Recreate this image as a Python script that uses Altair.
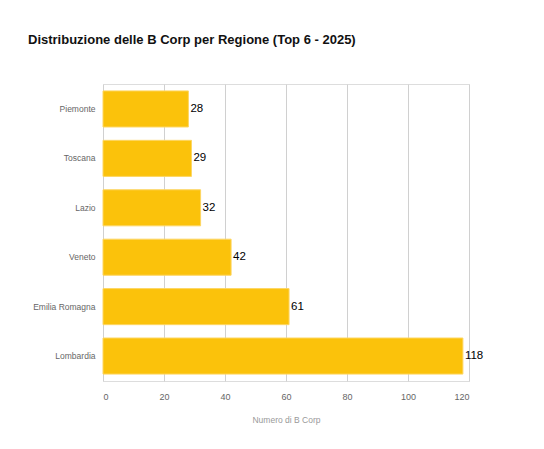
import altair as alt
import pandas as pd

regioni = ["Piemonte", "Toscana", "Lazio", "Veneto", "Emilia Romagna", "Lombardia"]
valori = [28, 29, 32, 42, 61, 118]

df = pd.DataFrame({"Regione": regioni, "Numero": valori})

FONT = "Liberation Sans"

base = alt.Chart(df).encode(
    y=alt.Y("Regione:N", sort=regioni,
            scale=alt.Scale(paddingInner=0.27, paddingOuter=0.14),
            axis=alt.Axis(title=None, domain=False, ticks=False, labelPadding=8,
                          labelFontSize=8.5, labelColor="#666666", labelFont=FONT, grid=False)),
    x=alt.X("Numero:Q", scale=alt.Scale(domain=[0, 120], nice=False),
            axis=alt.Axis(title="Numero di B Corp", values=[0, 20, 40, 60, 80, 100, 120],
                          domain=False, ticks=False, labelPadding=11,
                          labelFontSize=9, labelColor="#666666", labelFont=FONT,
                          titleFontSize=8.5, titleColor="#999999", titleFont=FONT,
                          titleFontWeight="normal", titlePadding=14,
                          grid=True, gridColor="#d0d0d0", gridWidth=1)),
)

bars = base.mark_bar(color="#FBC20B", stroke="#FDD663", strokeWidth=1)
labels = base.mark_text(align="left", baseline="middle", dx=2, fontSize=11.5,
                        font=FONT, color="#000000").encode(text="Numero:Q")

chart = (bars + labels).properties(
    width=366, height=297,
    title=alt.TitleParams("Distribuzione delle B Corp per Regione (Top 6 - 2025)",
                          anchor="start", frame="group", dx=-75, offset=37,
                          fontSize=13, fontWeight="bold", font=FONT, color="#111111"),
    autosize=alt.AutoSizeParams(type="none"),
    padding={"left": 103, "top": 84, "right": 75, "bottom": 68},
).configure_view(stroke=None).configure(background="white")

chart.save("out.html", embed_options={"renderer": "svg", "actions": False})
